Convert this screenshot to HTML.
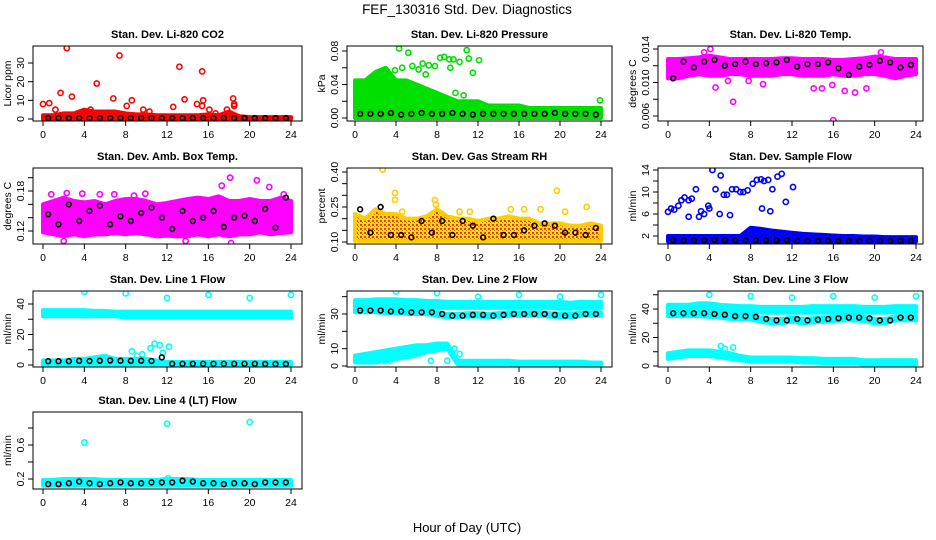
<!DOCTYPE html>
<html><head><meta charset="utf-8">
<style>
html,body{margin:0;padding:0;background:#fff;}
svg{display:block;font-family:"Liberation Sans",sans-serif;}
</style></head>
<body>
<svg id="chart" width="936" height="540" viewBox="0 0 936 540" xmlns="http://www.w3.org/2000/svg">
<text x="467" y="14" font-size="13.5" text-anchor="middle">FEF_130316  Std. Dev. Diagnostics</text>
<text x="467" y="532" font-size="13" text-anchor="middle">Hour of Day (UTC)</text>
</svg>
<script>
// ---- data ----
const xTicks = [0,4,8,12,16,20,24];
const bandHours = [0,1,2,3,4,5,6,7,8,9,10,11,12,13,14,15,16,17,18,19,20,21,22,23,24];
const blackHours = [0.5,1.5,2.5,3.5,4.5,5.5,6.5,7.5,8.5,9.5,10.5,11.5,12.5,13.5,14.5,15.5,16.5,17.5,18.5,19.5,20.5,21.5,22.5,23.5];

// CO2
const co2Lo = [0,0,0,0,0,0,0,0,0,0,0,0,0,0,0,0,0,0,0,0,0,0,0,0,0];
const co2Hi = [2,2,3,3,5,4,4,4,3,2.5,2.5,2,2,2,2,2,2.5,2,4,1.5,1,1,1,1,1];
const co2OutX = [0,0.6,1.2,1.7,2.3,2.8,4.6,5.2,6.8,7.4,8.1,8.6,9.7,10.3,12.6,13.2,13.7,14.9,15.4,15.5,15.4,16.1,16.7,17.8,18.4,18.5,18.5];
const co2OutY = [8,8.5,5,14,38,12,5,19,11,34,7,10,5,4,6.5,28,10.5,8,25.5,10,7,5,3,5,11,8,7];
const co2Black = [0.5,0.5,0.5,0.5,0.5,0.5,0.5,0.5,0.5,0.5,0.5,0.5,0.5,0.5,0.5,0.5,0.5,0.5,0.5,0.5,0.5,0.5,0.5,0.5];
// Pressure
const presLo = [0,0,0,0,0,0,0,0,0,0,0,0,0,0,0,0,0,0,0,0,0,0,0,0,0];
const presHi = [0.045,0.045,0.055,0.06,0.045,0.045,0.04,0.035,0.03,0.025,0.02,0.02,0.02,0.015,0.015,0.015,0.015,0.012,0.012,0.012,0.012,0.012,0.012,0.012,0.012];
const presOutX = [4.3,5.2,4.6,5.6,6.2,6.6,7.2,7.8,8.3,8.7,9.2,9.6,10.2,10.9,11.1,11.5,12.1,9.3,3.9,10.6,9.8,23.9,4.8,5.0,6.9];
const presOutY = [0.083,0.078,0.06,0.062,0.058,0.065,0.063,0.062,0.072,0.073,0.07,0.07,0.067,0.081,0.071,0.054,0.069,0.06,0.057,0.027,0.03,0.021,0.018,0.018,0.052];
const presBlack = [0.005,0.005,0.005,0.006,0.004,0.005,0.006,0.005,0.005,0.006,0.005,0.004,0.005,0.005,0.005,0.005,0.005,0.005,0.005,0.006,0.005,0.005,0.005,0.004];
// Li-820 temp
const tempLo = [0.0105,0.0105,0.0108,0.011,0.0108,0.0108,0.011,0.011,0.0108,0.0108,0.0108,0.011,0.011,0.0108,0.0108,0.0108,0.011,0.0108,0.0108,0.011,0.011,0.0108,0.0105,0.0108,0.011];
const tempHi = [0.0128,0.0128,0.0129,0.013,0.0132,0.013,0.0128,0.0128,0.0128,0.0128,0.0128,0.0129,0.0129,0.0128,0.0128,0.0128,0.0127,0.0127,0.0128,0.0129,0.0131,0.013,0.0128,0.0128,0.0128];
const tempOutX = [4.1,4.6,5.8,6.3,7.8,9.2,14.1,14.9,15.9,17.1,18.1,19.2,16.0,3.5,20.6];
const tempOutY = [0.014,0.0094,0.0102,0.0077,0.0102,0.0098,0.0093,0.0093,0.0097,0.009,0.0088,0.0093,0.0055,0.0136,0.0136];
const tempBlack = [0.0105,0.0125,0.0118,0.0125,0.0127,0.012,0.0122,0.0125,0.0122,0.0123,0.0124,0.0127,0.0119,0.0122,0.0122,0.0124,0.0117,0.0109,0.0119,0.0121,0.0126,0.0124,0.0118,0.0121];
// Amb box temp
const ambLo = [0.118,0.115,0.112,0.115,0.112,0.115,0.115,0.117,0.115,0.117,0.115,0.112,0.113,0.112,0.112,0.115,0.112,0.115,0.112,0.115,0.115,0.118,0.115,0.117,0.118];
const ambHi = [0.16,0.165,0.17,0.165,0.163,0.165,0.16,0.165,0.168,0.168,0.165,0.16,0.162,0.165,0.168,0.17,0.168,0.172,0.165,0.165,0.168,0.165,0.165,0.17,0.165];
const ambOutX = [0.8,2.3,3.8,5.5,6.9,8.8,9.9,16.2,17.3,18.1,20.7,21.9,18.2,2.0,13.8,23.3];
const ambOutY = [0.175,0.177,0.176,0.175,0.175,0.173,0.176,0.22,0.188,0.2,0.196,0.186,0.102,0.105,0.105,0.175];
const ambBlack = [0.145,0.13,0.16,0.135,0.15,0.158,0.13,0.142,0.135,0.147,0.155,0.14,0.123,0.15,0.135,0.14,0.15,0.126,0.14,0.143,0.135,0.153,0.125,0.17];
// RH
const rhLo = [0.105,0.105,0.105,0.105,0.105,0.105,0.105,0.105,0.105,0.105,0.105,0.105,0.105,0.105,0.105,0.105,0.105,0.105,0.105,0.105,0.105,0.105,0.105,0.105,0.105];
const rhHi = [0.22,0.2,0.24,0.22,0.22,0.2,0.2,0.21,0.24,0.21,0.2,0.2,0.19,0.2,0.2,0.21,0.2,0.2,0.18,0.18,0.18,0.17,0.17,0.18,0.17];
const rhOutX = [2.7,3.9,3.9,7.8,7.9,19.7,22.6,4.6,10.2,11.2,15.2,16.5,18.1,20.5];
const rhOutY = [0.41,0.31,0.28,0.28,0.26,0.32,0.25,0.23,0.23,0.23,0.24,0.24,0.24,0.23];
const rhBlack = [0.24,0.14,0.25,0.13,0.13,0.12,0.19,0.14,0.19,0.13,0.19,0.17,0.12,0.2,0.13,0.13,0.15,0.17,0.18,0.17,0.14,0.14,0.13,0.16];
// Sample flow
const flowLo = [1,1,1,1,1,1,1,1,1,1,1,1,1,1,1,1,1,1,1,1,1,1,1,1,1];
const flowHi = [2,2,2,2,2,2,2,2,3.5,3.3,3,2.8,2.6,2.4,2.3,2.2,2.1,2,2,1.9,1.9,1.8,1.8,1.8,1.8];
const flowOutX = [0,0.3,0.6,1.0,1.3,1.6,2.0,2.3,2.7,3.2,3.5,3.9,4.3,4.6,5.1,5.4,5.7,6.2,6.6,7.0,7.3,7.7,8.2,8.6,9.0,9.3,9.7,10.1,10.6,11.0,11.4,12.1,3.0,5.0,6.0,4.0,2.0,9.1,9.9];
const flowOutY = [6.4,7,6.8,7.5,8.5,9,8.5,8.8,10.5,6.5,6,7.5,14,10.5,13,9.5,9.5,10.5,10.5,10,10,10.3,11.5,12.2,12.3,12,12.2,10.5,12.8,13.3,8.2,10.9,5.5,6,5.8,7,5.5,7,6.5];
const flowBlack = [1.2,1.2,1.2,1.2,1.3,1.2,1.2,1.2,1.2,1.2,1.2,1.2,1.1,1.1,1.1,1.1,1.1,1.1,1.1,1.1,1.1,1.1,1.1,1.1];
// Line 1
const l1UpLo = [32,32,32,32,32,32,32,32,31,31,31,31,31,31,31,31,31,31,31,31,31,31,31,31,31];
const l1UpHi = [36,36,36,36,36,35.5,35.5,35,35,35,35,35,35,35,35,35,35,35,35,35,35,35,35,35,35];
const l1LoLo = [0,0,0,0,0,0,0,0,0,0,0,0,0,0,0,0,0,0,0,0,0,0,0,0,0];
const l1LoHi = [3,3,3,4,4,5,6,4,4,4,4,3,2,2,2,2,2,2,2,2,2,2,2,2,2];
const l1OutX = [4,8,12,16,20,24,8.6,9.1,9.6,10.4,10.8,11.3,12.2,11.6];
const l1OutY = [48,47,44,46,44,46,9,6,7,11,14,13,12,8];
const l1Black = [2.5,2.5,2.5,2.7,2.6,2.8,3,2.8,2.7,2.8,2.6,5,0.8,0.8,0.8,0.8,0.8,0.8,0.8,0.8,0.8,0.7,0.7,0.7];
// Line 2
const l2UpLo = [34,34,34,34,34,34,34,34,33.5,33.5,33.5,33.5,33.5,33.5,33.5,33.5,33.5,33.5,33.5,33.5,33,33,33.5,33.5,33.5];
const l2UpHi = [38,38,38.5,38.5,38.5,38,38,37.5,37.5,37,37,37,37,37,37,37,37,37,37,37,37,36.5,37,37,37];
const l2MidLo = [31,31,31,30.5,30.5,30,30,30,29,28,28,28.5,28.5,28,28.5,29,29,29,29,28.5,28,28,29,29,29];
const l2MidHi = [33,33,33,32.5,32.5,32,32,32,31,30,30,30.5,30.5,30,30.5,31,31,31,31,30.5,30,30,31,31,31];
const l2LoLo = [2,2,2,3,4,5,6,8,9,10,1,1,1,1,1,1,0.5,0.5,0.5,0.5,0.5,0.5,0.5,0.5,0.5];
const l2LoHi = [6,7,8,9,10,11,12,12,13,13,3,3,3,3,3,3,2.5,2.5,2.5,2.5,2.5,2.5,2.5,2,2];
const l2OutX = [4,8,12,16,20,24,9.7,10.2,0.5,2.1,2.9,3.4,7.4,9.0];
const l2OutY = [43,42,40,41,40,41,10,7,3,3,3,3,3,3];
const l2Black = [32,32,32,31.5,31.5,31,31,31,30,29,29,29.5,29.5,29,29.5,30,30,30,30,29.5,29,29,30,30];
// Line 3
const l3UpLo = [39,39,39,39,39,39,38.5,38,38,37.5,37.5,37.5,37.5,37.5,37.5,37.5,37.5,37.5,37.5,37.5,37.5,37.5,38,38,38];
const l3UpHi = [43,43,43,44,44,43,42.5,42,42,41.5,41.5,41.5,41.5,41.5,42,42,42,42,42,41.5,41.5,41.5,42,42,42];
const l3MidLo = [35,35,35,35,34.5,34,33,33,32.5,31,30,30,31,30,30.5,31,31.5,32,32,31.5,30,30,32,32,32];
const l3MidHi = [38,38,38,38,37.5,37,36,36,35.5,34,33,33,34,33,33.5,34,34.5,35,35,34.5,33,33,35,35,35];
const l3LoLo = [5,6,7,7,7,6,5,4,3,3,3,3,3,2.5,2.5,2,2,2,2,1,1,1,1,1,1];
const l3LoHi = [9,10,11,11,11,10,9,7,6,6,6,6,6,5.5,5.5,5,5,5,5,4,4,4,4,4,4];
const l3OutX = [4,8,12,16,20,24,5.1,5.5,6.3];
const l3OutY = [50,49,48,49,48,49,14,12,13];
const l3Black = [37,37,37,37,36.5,36,35,35,34.5,33,32,32,33,32,32.5,33,33.5,34,34,33.5,32,32,34,34];
// Line 4
const l4Lo = [0.12,0.12,0.12,0.12,0.12,0.12,0.12,0.12,0.12,0.12,0.12,0.12,0.12,0.12,0.12,0.12,0.12,0.12,0.12,0.12,0.12,0.12,0.12,0.12,0.12];
const l4Hi = [0.19,0.19,0.2,0.2,0.2,0.2,0.19,0.19,0.19,0.19,0.19,0.19,0.2,0.2,0.2,0.19,0.19,0.19,0.19,0.19,0.19,0.19,0.19,0.19,0.19];
const l4OutX = [4,12,20,12.1];
const l4OutY = [0.63,0.85,0.87,0.21];
const l4Black = [0.14,0.14,0.15,0.17,0.15,0.14,0.15,0.16,0.15,0.15,0.16,0.16,0.16,0.18,0.17,0.15,0.15,0.14,0.15,0.15,0.14,0.16,0.16,0.16];

// ---- layout ----
const svg = document.getElementById('chart');
const NS = 'http://www.w3.org/2000/svg';
const cols = [{l:33,r:302,x0:43,x24:291},{l:347,r:612,x0:355,x24:601},{l:658,r:923,x0:668,x24:916}];
const rows = [{t:46,b:121},{t:168,b:244},{t:291,b:367},{t:412,b:489}];

const panels = [
 {name:'co2',title:'Stan. Dev. Li-820 CO2',ylab:'Licor ppm',c:0,r:0,yRef:[0,119,30,63],ticks:[0,10,20,30],labels:['0','10','20','30'],color:'#ff0000',bands:[[co2Lo,co2Hi]],outX:co2OutX,outY:co2OutY,black:co2Black},
 {name:'pressure',title:'Stan. Dev. Li-820 Pressure',ylab:'kPa',c:1,r:0,yRef:[0,118,0.08,51],ticks:[0,0.02,0.04,0.06,0.08],labels:['0.00','','0.04','','0.08'],color:'#00e000',bands:[[presLo,presHi]],outX:presOutX,outY:presOutY,black:presBlack},
 {name:'li820-temp',title:'Stan. Dev. Li-820 Temp.',ylab:'degrees C',c:2,r:0,yRef:[0.014,49,0.006,116],ticks:[0.006,0.008,0.010,0.012,0.014],labels:['0.006','','0.010','','0.014'],color:'#ff00ff',bands:[[tempLo,tempHi]],outX:tempOutX,outY:tempOutY,black:tempBlack},
 {name:'amb-box-temp',title:'Stan. Dev. Amb. Box Temp.',ylab:'degrees C',c:0,r:1,yRef:[0.18,191,0.12,231],ticks:[0.12,0.14,0.16,0.18,0.20],labels:['0.12','','','0.18',''],color:'#ff00ff',bands:[[ambLo,ambHi]],outX:ambOutX,outY:ambOutY,black:ambBlack},
 {name:'gas-stream-rh',title:'Stan. Dev. Gas Stream RH',ylab:'percent',c:1,r:1,yRef:[0.40,172,0.10,242],ticks:[0.10,0.15,0.20,0.25,0.30,0.35,0.40],labels:['0.10','','','0.25','','','0.40'],color:'#f0c000',rh:true,bands:[[rhLo,rhHi]],outX:rhOutX,outY:rhOutY,black:rhBlack},
 {name:'sample-flow',title:'Stan. Dev. Sample Flow',ylab:'ml/min',c:2,r:1,yRef:[14,170,2,236],ticks:[2,4,6,8,10,12,14],labels:['2','','6','','10','','14'],color:'#0000ff',bands:[[flowLo,flowHi]],outX:flowOutX,outY:flowOutY,black:flowBlack},
 {name:'line1-flow',title:'Stan. Dev. Line 1 Flow',ylab:'ml/min',c:0,r:2,yRef:[0,365,40,304],ticks:[0,10,20,30,40],labels:['0','','20','','40'],color:'#00ffff',bands:[[l1UpLo,l1UpHi],[l1LoLo,l1LoHi]],outX:l1OutX,outY:l1OutY,black:l1Black},
 {name:'line2-flow',title:'Stan. Dev. Line 2 Flow',ylab:'ml/min',c:1,r:2,yRef:[0,366,30,314],ticks:[0,10,20,30,40],labels:['0','10','','30',''],color:'#00ffff',bands:[[l2UpLo,l2UpHi],[l2MidLo,l2MidHi],[l2LoLo,l2LoHi]],outX:l2OutX,outY:l2OutY,black:l2Black},
 {name:'line3-flow',title:'Stan. Dev. Line 3 Flow',ylab:'ml/min',c:2,r:2,yRef:[0,366,40,309],ticks:[0,10,20,30,40,50],labels:['0','','20','','40',''],color:'#00ffff',bands:[[l3UpLo,l3UpHi],[l3MidLo,l3MidHi],[l3LoLo,l3LoHi]],outX:l3OutX,outY:l3OutY,black:l3Black},
 {name:'line4-flow',title:'Stan. Dev. Line 4 (LT) Flow',ylab:'ml/min',c:0,r:3,yRef:[0.2,479,0.6,445],ticks:[0.2,0.4,0.6,0.8],labels:['0.2','','0.6',''],color:'#00ffff',bands:[[l4Lo,l4Hi]],outX:l4OutX,outY:l4OutY,black:l4Black}
];

function mk(tag, attrs, parent){
  const e = document.createElementNS(NS, tag);
  for (const k in attrs) e.setAttribute(k, attrs[k]);
  (parent||svg).appendChild(e);
  return e;
}

const defs = mk('defs',{});
const pat = mk('pattern',{id:'rhpat',width:4,height:4,patternUnits:'userSpaceOnUse'},defs);
mk('rect',{x:0,y:0,width:4,height:4,fill:'#ffee00'},pat);
mk('rect',{x:0,y:0,width:2,height:2,fill:'#ff3000'},pat);
mk('rect',{x:2,y:2,width:1,height:1,fill:'#ff6000'},pat);

panels.forEach(p => {
  const col = cols[p.c], row = rows[p.r];
  const xs = h => col.x0 + (h/24)*(col.x24-col.x0);
  const ys = v => p.yRef[1] + (v-p.yRef[0])*(p.yRef[3]-p.yRef[1])/(p.yRef[2]-p.yRef[0]);
  const g = mk('g',{});
  
  
  const clipId = 'clip-' + p.name;
  const cp = mk('clipPath',{id:clipId},defs);
  mk('rect',{x:col.l,y:row.t,width:col.r-col.l,height:row.b-row.t},cp);
  const plot = mk('g',{'clip-path':'url(#'+clipId+')'},g);
  
  

  p.bands.forEach((b,bi) => {
    const lo = b[0], hi = b[1];
    let pts = bandHours.map((h,i)=> xs(h)+','+ys(hi[i]));
    pts = pts.concat(bandHours.slice().reverse().map((h,j)=>{const i=bandHours.length-1-j; return xs(h)+','+ys(lo[i]);}));
    const poly = mk('polygon',{points:pts.join(' '),fill:p.rh?'url(#rhpat)':p.color,stroke:p.rh?'#ffcc00':p.color,'stroke-width':4,'stroke-linejoin':'round'},plot);
    
    
  });
  p.outX.forEach((x,i) => {
    const c = mk('circle',{cx:xs(x),cy:ys(p.outY[i]),r:2.6,fill:'none',stroke:p.rh?'#ffcc00':p.color,'stroke-width':1.6},plot);
    
    
  });
  p.black.forEach((v,i) => {
    const c = mk('circle',{cx:xs(blackHours[i]),cy:ys(v),r:2.4,fill:'none',stroke:'#000','stroke-width':1.6},plot);
    
    
  });

  const box = mk('rect',{x:col.l,y:row.t,width:col.r-col.l,height:row.b-row.t,fill:'none',stroke:'#000','stroke-width':1},g);
  
  

  const t = mk('text',{x:(col.l+col.r)/2,y:row.t-8,'font-size':11,'font-weight':'bold','text-anchor':'middle'},g);
  t.textContent = p.title;
  
  

  xTicks.forEach(h => {
    mk('line',{x1:xs(h),x2:xs(h),y1:row.b,y2:row.b+5,stroke:'#000'},g);
    const tl = mk('text',{x:xs(h),y:row.b+17,'font-size':10.5,'text-anchor':'middle'},g);
    tl.textContent = String(h);
    
    
  });
  p.ticks.forEach((v,i) => {
    const y = ys(v);
    mk('line',{x1:col.l,x2:col.l-5,y1:y,y2:y,stroke:'#000'},g);
    if (p.labels[i]){
      const tl = mk('text',{x:col.l-9,y:y,'font-size':10.5,'text-anchor':'middle',transform:'rotate(-90 '+(col.l-9)+' '+y+')'},g);
      tl.textContent = p.labels[i];
      
      
    }
  });
  const yl = (row.t+row.b)/2, xl = col.l-22;
  const ylab = mk('text',{x:xl,y:yl,'font-size':10.5,'text-anchor':'middle',transform:'rotate(-90 '+xl+' '+yl+')'},g);
  ylab.textContent = p.ylab;
  
  
});
</script>
</body></html>
